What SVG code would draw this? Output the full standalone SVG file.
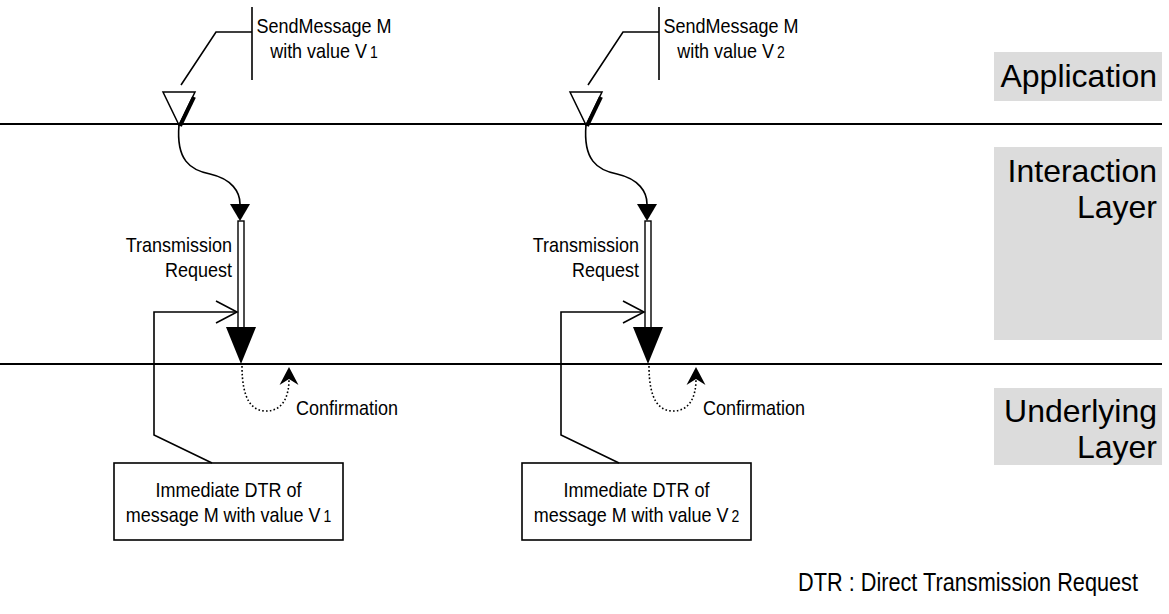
<svg xmlns="http://www.w3.org/2000/svg" width="1169" height="614" viewBox="0 0 1169 614">
<style>
text{font-family:"Liberation Sans",Arial,sans-serif;fill:#000}
.sm{font-size:18px}
.lg{font-size:32px}
.ln{stroke:#000;stroke-width:1.6;fill:none}
.sep{stroke:#000;stroke-width:1.8}
.band{fill:#dcdcdc}
.dot{stroke:#000;stroke-width:1.6;fill:none;stroke-dasharray:1.6 2.2}
.dbl{fill:#fff;stroke:#000;stroke-width:1.4}
.box{fill:#fff;stroke:#000;stroke-width:1.6}
</style>
<defs>
<marker id="fa" viewBox="0 -11 18 22" refX="0" refY="0" markerWidth="18" markerHeight="22" markerUnits="userSpaceOnUse" orient="auto">
<path d="M0,-10 L17,0 L0,10 Z" fill="#000"/>
</marker>
<marker id="chev" viewBox="-23 -13 25 26" refX="0" refY="0" markerWidth="25" markerHeight="26" markerUnits="userSpaceOnUse" orient="auto">
<path d="M-21,-11 L0,0 L-21,11" fill="none" stroke="#000" stroke-width="1.6"/>
</marker>
<marker id="notch" viewBox="-1 -11 20 22" refX="6" refY="0" markerWidth="20" markerHeight="22" markerUnits="userSpaceOnUse" orient="auto">
<path d="M0,-9.5 L18,0 L0,9.5 L6,0 Z" fill="#000"/>
</marker>
</defs>

<g id="layers">
<line class="sep" x1="0" y1="124" x2="1162" y2="124"/>
<line class="sep" x1="0" y1="364" x2="1162" y2="364"/>
</g>

<g id="application-layer">
<rect class="band" x="994" y="52" width="168" height="49"/>
<text class="lg" x="1157" y="87" text-anchor="end">Application</text>
</g>
<g id="interaction-layer">
<rect class="band" x="994" y="147" width="168" height="193"/>
<text class="lg" x="1157" y="182" text-anchor="end">Interaction</text>
<text class="lg" x="1157" y="218" text-anchor="end">Layer</text>
</g>
<g id="underlying-layer">
<rect class="band" x="994" y="388" width="168" height="77"/>
<text class="lg" x="1157" y="422" text-anchor="end">Underlying</text>
<text class="lg" x="1157" y="458" text-anchor="end">Layer</text>
</g>

<g id="send1">
<line class="ln" x1="252" y1="7" x2="252" y2="80"/>
<text class="sm" transform="translate(324,33) scale(1,1.15)" text-anchor="middle">SendMessage M</text>
<text class="sm" transform="translate(324,58) scale(1,1.15)" text-anchor="middle">with value V<tspan font-size="14" dx="3">1</tspan></text>
</g>
<g id="send2">
<line class="ln" x1="659" y1="7" x2="659" y2="80"/>
<text class="sm" transform="translate(731,33) scale(1,1.15)" text-anchor="middle">SendMessage M</text>
<text class="sm" transform="translate(731,58) scale(1,1.15)" text-anchor="middle">with value V<tspan font-size="14" dx="3">2</tspan></text>
</g>

<g id="trigger1">
<path d="M163,92 L195,92 L179,125 Z" fill="#fff" stroke="#000" stroke-width="1.5"/>
<line x1="194" y1="97" x2="180" y2="126" stroke="#000" stroke-width="4"/>
</g>
<g id="trigger2">
<path d="M570,92 L602,92 L586,125 Z" fill="#fff" stroke="#000" stroke-width="1.5"/>
<line x1="601" y1="97" x2="587" y2="126" stroke="#000" stroke-width="4"/>
</g>

<g id="request1">
<text class="sm" transform="translate(232,252) scale(1,1.15)" text-anchor="end">Transmission</text>
<text class="sm" transform="translate(232,277) scale(1,1.15)" text-anchor="end">Request</text>
</g>
<g id="request2">
<text class="sm" transform="translate(639,252) scale(1,1.15)" text-anchor="end">Transmission</text>
<text class="sm" transform="translate(639,277) scale(1,1.15)" text-anchor="end">Request</text>
</g>

<g id="confirmation1">
<text class="sm" transform="translate(296,415) scale(1,1.15)">Confirmation</text>
</g>
<g id="confirmation2">
<text class="sm" transform="translate(703,415) scale(1,1.15)">Confirmation</text>
</g>

<g id="dtr1">
<rect class="box" x="114" y="463" width="229" height="77"/>
<text class="sm" transform="translate(228.5,497) scale(1,1.15)" text-anchor="middle">Immediate DTR of</text>
<text class="sm" transform="translate(228.5,522) scale(1,1.15)" text-anchor="middle">message M with value V<tspan font-size="14" dx="3">1</tspan></text>
</g>
<g id="dtr2">
<rect class="box" x="522" y="463" width="229" height="77"/>
<text class="sm" transform="translate(636.5,497) scale(1,1.15)" text-anchor="middle">Immediate DTR of</text>
<text class="sm" transform="translate(636.5,522) scale(1,1.15)" text-anchor="middle">message M with value V<tspan font-size="14" dx="3">2</tspan></text>
</g>

<g id="legend">
<text transform="translate(1138,591) scale(1,1.15)" text-anchor="end" font-size="21.7">DTR : Direct Transmission Request</text>
</g>

<g id="connectors">
<polyline class="ln" points="181,85 216,32 252,32"/>
<polyline class="ln" points="588,85 623,32 659,32"/>
<path class="ln" d="M179,125 C176,160 190,170 210,174 C232,179 240,192 240,204" marker-end="url(#fa)"/>
<path class="ln" d="M586,125 C583,160 597,170 617,174 C639,179 647,192 647,204" marker-end="url(#fa)"/>
<rect class="dbl" x="238" y="221" width="6" height="107"/>
<path d="M226,327 L256,327 L241,364 Z" fill="#000"/>
<rect class="dbl" x="645" y="221" width="6" height="107"/>
<path d="M633,327 L663,327 L648,364 Z" fill="#000"/>
<path class="dot" d="M242,366 C242,400 252,411 266,411 C282,411 289,398 289,379" marker-end="url(#notch)"/>
<path class="dot" d="M649,366 C649,400 659,411 673,411 C689,411 696,398 696,379" marker-end="url(#notch)"/>
<polyline class="ln" points="212,463 154,435 154,312 237,312" marker-end="url(#chev)"/>
<polyline class="ln" points="619,463 561,435 561,312 644,312" marker-end="url(#chev)"/>
</g>
</svg>
